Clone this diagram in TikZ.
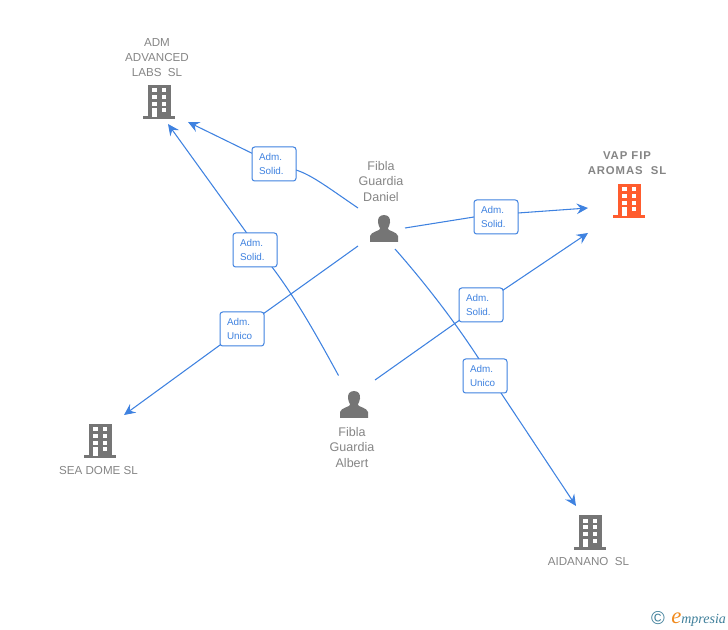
\documentclass[tikz,border=0pt]{standalone}
\usepackage{fontspec}
\setmainfont{Liberation Sans}
\newfontfamily\logofont{Liberation Serif}
\newfontfamily\spacedbold[LetterSpace=8,BoldFont={Liberation Sans Bold}]{Liberation Sans}
\usetikzlibrary{arrows.meta}
\definecolor{edgeblue}{HTML}{3F82E0}
\definecolor{icongray}{HTML}{757575}
\definecolor{labelgray}{HTML}{858585}
\definecolor{iconorange}{HTML}{FF5C2E}
\definecolor{logoteal}{HTML}{3F7F9A}
\definecolor{logoorange}{HTML}{F08A1D}
\tikzset{
  x=0.75pt,y=-0.75pt,
  name label/.style={text=labelgray,font=\fontsize{8.7pt}{11.2pt}\selectfont,align=center,inner sep=0pt},
  person label/.style={name label,font=\fontsize{9.4pt}{11.6pt}\selectfont},
  bold label/.style={name label,font=\spacedbold\fontsize{8.5pt}{11.2pt}\selectfont\bfseries},
  rolebox/.style={draw=edgeblue,line width=0.75pt,fill=white,rounded corners=2pt,text width=22.5pt,inner xsep=5.25pt,minimum height=25.5pt,inner ysep=0pt,text=edgeblue,align=left,font=\fontsize{7.4pt}{11.2pt}\selectfont},
  link/.style={draw=edgeblue,line width=0.8pt},
  arrowlink/.style={link,-{Stealth[length=8.5pt,width=8pt,inset=3pt]}},
  pics/building/.style={code={
    \fill[#1] (-11.5,-17) rectangle (11.5,16);
    \fill[#1] (-16,14.5) rectangle (16,17.5);
    \foreach \yy in {-13.5,-7,0} {
      \fill[white] (-7,\yy) rectangle ++(4.8,4);
      \fill[white] (2.5,\yy) rectangle ++(4.8,4);
    }
    \fill[white] (2.5,6.5) rectangle ++(4.8,4);
    \fill[white] (-7,6.5) rectangle (-2.4,15);
  }},
  pics/person/.style={code={
    \fill[icongray] (0,0) .. controls (-5,0) and (-6.5,4) .. (-6,7.5)
      .. controls (-5.8,10.5) and (-4.5,12) .. (-3.8,13.5)
      .. controls (-3.8,16) and (-13,16.5) .. (-14,21)
      -- (-14,27) -- (14,27) -- (14,21)
      .. controls (13,16.5) and (3.8,16) .. (3.8,13.5)
      .. controls (4.5,12) and (5.8,10.5) .. (6,7.5)
      .. controls (6.5,4) and (5,0) .. (0,0) -- cycle;
  }},
}
\begin{document}
\begin{tikzpicture}
\useasboundingbox (0,0) rectangle (728,630);

% icons
\pic at (159,102) {building=icongray};
\pic at (629,201) {building=iconorange};
\pic at (100,441) {building=icongray};
\pic at (590,532) {building=icongray};
\pic at (384,215) {person};
\pic at (354,391) {person};

% labels
\node[name label] (admlabel) at (157,58) {ADM\\ADVANCED\\LABS\ \ SL};
\node[bold label] (vaplabel) at (627,163.5) {VAP FIP\\AROMAS\ \ SL};
\node[name label] (sealabel) at (98.5,471) {SEA DOME SL};
\node[name label] (ailabel) at (588.5,562) {AIDANANO\ \ SL};
\node[person label] (danlabel) at (381,181.5) {Fibla\\Guardia\\Daniel};
\node[person label] (alblabel) at (352,447.5) {Fibla\\Guardia\\Albert};

% connector ends
\coordinate (danA) at (358,208);
\coordinate (danV) at (405,228);
\coordinate (danS) at (358,246);
\coordinate (danI) at (395,249);
\coordinate (albA) at (338.5,375.5);
\coordinate (albV) at (375,380);
\coordinate (admA) at (188,122);
\coordinate (admB) at (168,124);
\coordinate (vapA) at (588,208);
\coordinate (vapB) at (588,233);
\coordinate (seaT) at (124,415);
\coordinate (aiT) at (576,506);

% role box positions and the points where connectors meet them
\coordinate (pa) at (274,164);
\coordinate (pb) at (255,250);
\coordinate (pc) at (496,217);
\coordinate (pd) at (481,305);
\coordinate (pe) at (242,329);
\coordinate (pf) at (485,376);
\coordinate (bIn) at (272,267);
\coordinate (bOut) at (246,232);
\coordinate (fIn) at (479,359);
\coordinate (fOut) at (501,393);
\coordinate (cIn) at (474,217);
\coordinate (cOut) at (518,213);

% connectors
\draw[arrowlink] (danA) .. controls (330,189) and (312,175) .. (296,170) -- (pa) -- (admA);
\draw[arrowlink] (albA) .. controls (318,338) and (297,300) .. (bIn) -- (bOut) -- (admB);
\draw[arrowlink] (danV) -- (cIn) -- (cOut) -- (vapA);
\draw[arrowlink] (albV) -- (pd) -- (vapB);
\draw[arrowlink] (danS) -- (pe) -- (seaT);
\draw[arrowlink] (danI) .. controls (425,283) and (455,322) .. (fIn) -- (fOut) -- (aiT);

% role boxes
\node[rolebox] (ra) at (pa) {Adm.\\Solid.};
\node[rolebox] (rb) at (pb) {Adm.\\Solid.};
\node[rolebox] (rc) at (pc) {Adm.\\Solid.};
\node[rolebox] (rd) at (pd) {Adm.\\Solid.};
\node[rolebox] (re) at (pe) {Adm.\\Unico};
\node[rolebox] (rf) at (pf) {Adm.\\Unico};

% logo
\node[inner sep=0pt,text=logoteal,font=\fontsize{14pt}{14pt}\selectfont] (copy) at (658,618.5) {©};
\node[inner sep=0pt,anchor=base west,font=\logofont\itshape\fontsize{10.5pt}{12pt}\selectfont,text=logoteal] (brand) at (671,623) {{\color{logoorange}\fontsize{17pt}{17pt}\selectfont e}mpresia};
\end{tikzpicture}
\end{document}
